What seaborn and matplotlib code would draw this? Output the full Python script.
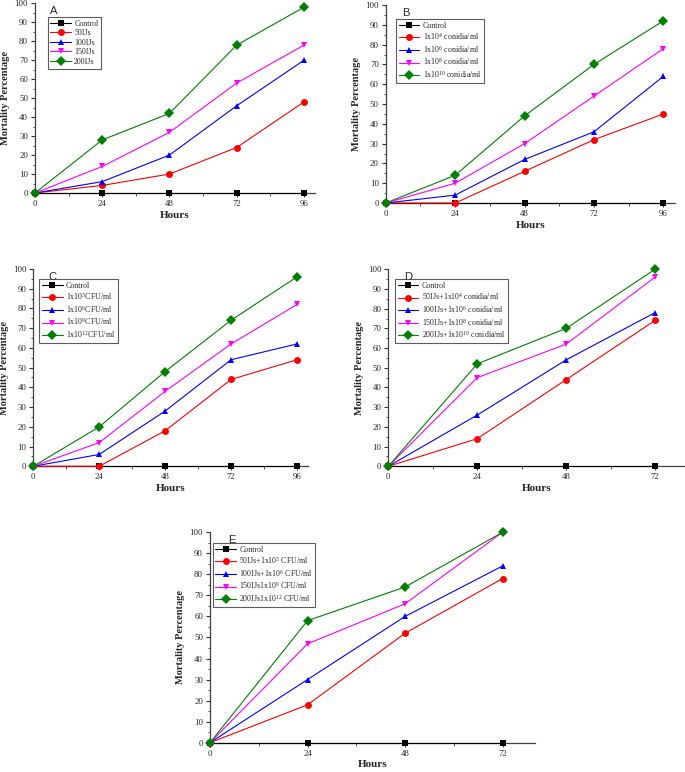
import matplotlib
import matplotlib.pyplot as plt
import pandas as pd
import seaborn as sns
from matplotlib.ticker import MultipleLocator

matplotlib.use("Agg")

# data
hours_96 = [0, 24, 48, 72, 96]
hours_72 = [0, 24, 48, 72]

labels_a = ["Control", "50IJs", "100IJs", "150IJs", "200IJs"]
values_a = [
    [0, 0, 0, 0, 0],
    [0, 4, 10, 24, 48],
    [0, 6, 20, 46, 70],
    [0, 14, 32, 58, 78],
    [0, 28, 42, 78, 98],
]

labels_b = ["Control", "1x10$^{4}$ conidia/ml", "1x10$^{6}$ conidia/ml",
            "1x10$^{8}$ conidia/ml", "1x10$^{10}$ conidia/ml"]
values_b = [
    [0, 0, 0, 0, 0],
    [0, 0, 16, 32, 45],
    [0, 4, 22, 36, 64],
    [0, 10, 30, 54, 78],
    [0, 14, 44, 70, 92],
]

labels_c = ["Control", "1x10$^{3}$CFU/ml", "1x10$^{6}$CFU/ml",
            "1x10$^{9}$CFU/ml", "1x10$^{12}$CFU/ml"]
values_c = [
    [0, 0, 0, 0, 0],
    [0, 0, 18, 44, 54],
    [0, 6, 28, 54, 62],
    [0, 12, 38, 62, 82],
    [0, 20, 48, 74, 96],
]

labels_d = ["Control", "50IJs+1x10$^{4}$ conidia/ml", "100IJs+1x10$^{6}$ conidia/ml",
            "150IJs+1x10$^{8}$ conidia/ml", "200IJs+1x10$^{10}$ conidia/ml"]
values_d = [
    [0, 0, 0, 0],
    [0, 14, 44, 74],
    [0, 26, 54, 78],
    [0, 45, 62, 96],
    [0, 52, 70, 100],
]

labels_e = ["Control", "50IJs+1x10$^{3}$ CFU/ml", "100IJs+1x10$^{6}$ CFU/ml",
            "150IJs1x10$^{9}$ CFU/ml", "200IJs1x10$^{12}$ CFU/ml"]
values_e = [
    [0, 0, 0, 0],
    [0, 18, 52, 78],
    [0, 30, 60, 84],
    [0, 47, 66, 100],
    [0, 58, 74, 100],
]

colors = ["#000000", "#ff0000", "#0000ff", "#ff00ff", "#008000"]
markers = ["s", "o", "^", "v", "D"]

sns.set_theme(style="ticks")
plt.rcParams["font.family"] = ["Liberation Serif", "DejaVu Serif"]
plt.rcParams["mathtext.fontset"] = "custom"
plt.rcParams["mathtext.rm"] = "Liberation Serif"
plt.rcParams["mathtext.it"] = "Liberation Serif:italic"
plt.rcParams["mathtext.bf"] = "Liberation Serif:bold"

fig = plt.figure(figsize=(6.85, 7.72), dpi=100)

panels = [
    ("A", [0.0511, 0.750, 0.4088, 0.2455], hours_96, labels_a, values_a, 100, (0.045, 0.93)),
    ("B", [0.5631, 0.737, 0.4223, 0.2565], hours_96, labels_b, values_b, 100, (0.036, 0.93)),
    ("C", [0.0486, 0.396, 0.4010, 0.2556], hours_96, labels_c, values_c, 100, (0.022, 0.95)),
    ("D", [0.5669, 0.396, 0.4326, 0.2552], hours_72, labels_d, values_d, 80, (0.023, 0.95)),
    ("E", [0.3066, 0.038, 0.4745, 0.2725], hours_72, labels_e, values_e, 80, (0.008, 0.95)),
]

for letter, rect, hours, labels, values, xmax, anchor in panels:
    ax = fig.add_axes(rect)
    rows = []
    for lab, vals in zip(labels, values):
        for h, v in zip(hours, vals):
            rows.append({"Hours": h, "Mortality": v, "Treatment": lab})
    df = pd.DataFrame(rows)

    sns.lineplot(data=df, x="Hours", y="Mortality", hue="Treatment", style="Treatment",
                 hue_order=labels, style_order=labels, palette=colors, markers=markers,
                 dashes=False, linewidth=0.8, markersize=5, markeredgewidth=0,
                 ax=ax, clip_on=False, zorder=3)

    ax.set_xlim(0, xmax)
    ax.set_ylim(0, 100)
    ax.xaxis.set_major_locator(MultipleLocator(24))
    ax.xaxis.set_minor_locator(MultipleLocator(12))
    ax.yaxis.set_major_locator(MultipleLocator(10))
    ax.yaxis.set_minor_locator(MultipleLocator(5))
    ax.tick_params(which="major", direction="out", length=3, width=0.8,
                   labelsize=6.3, pad=2, color="#333333")
    ax.tick_params(which="minor", direction="out", length=1.8, width=0.6, color="#333333")
    sns.despine(ax=ax)
    for side in ["left", "bottom"]:
        ax.spines[side].set_linewidth(0.9)
        ax.spines[side].set_color("#404040")

    ax.set_xlabel("Hours", fontsize=8, fontweight="bold", labelpad=2)
    ax.set_ylabel("Mortality Percentage", fontsize=7.5, fontweight="bold", labelpad=3)

    ax.text(0.055, 0.985, letter, transform=ax.transAxes, fontsize=8,
            family="Liberation Sans", va="top", ha="left")

    handles, labs = ax.get_legend_handles_labels()
    leg = ax.legend(handles, labs, loc="upper left", bbox_to_anchor=anchor,
                    borderaxespad=0, fontsize=5.7, frameon=True, fancybox=False,
                    handlelength=2.6, labelspacing=0.2, borderpad=0.35,
                    handletextpad=0.4)
    leg.get_frame().set_edgecolor("#333333")
    leg.get_frame().set_linewidth(0.8)

fig.savefig("out.png", dpi=100)
plt.close(fig)
